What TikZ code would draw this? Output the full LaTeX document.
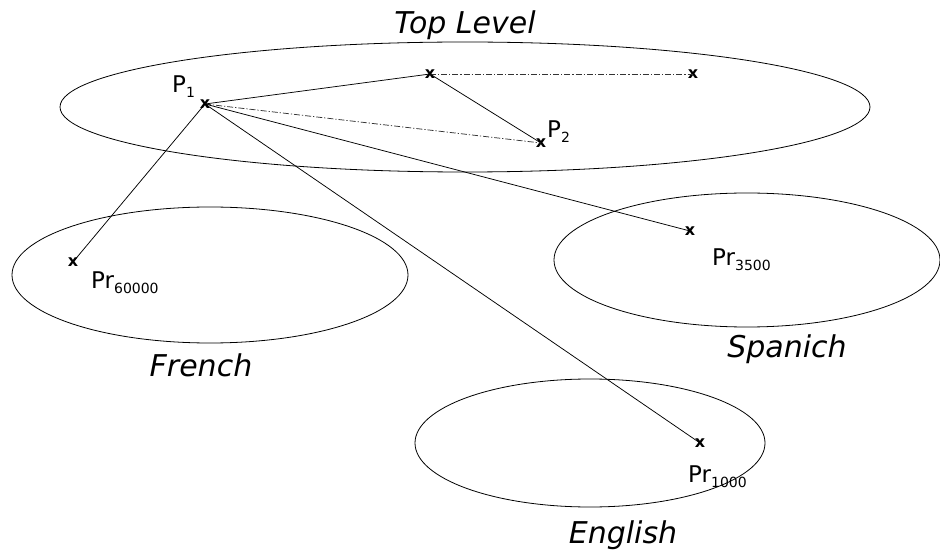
\documentclass[tikz,border=0pt]{standalone}
\usepackage{fontspec}
\setmainfont{DejaVu Sans}
\newcommand\mysub[1]{\raisebox{-5pt}{\fontsize{14}{14}\selectfont #1}}
\begin{document}
\begin{tikzpicture}[x=1pt,y=-1pt,
  region/.style={draw=black, line width=0.8pt},
  mk/.style={inner sep=0pt, font=\bfseries\fontsize{16}{16}\selectfont},
  ln/.style={draw=black, line width=0.75pt},
  dd/.style={draw=black!80, line width=0.75pt, dash pattern=on 6pt off 2pt on 1.2pt off 2pt},
  lbl/.style={inner sep=0pt, anchor=base west, font=\fontsize{23}{23}\selectfont},
  title/.style={inner sep=0pt, anchor=base, font=\itshape\fontsize{30}{30}\selectfont}]
\useasboundingbox (0,0) rectangle (940,553);
\fill[white] (0,0) rectangle (940,553);
% regions
\draw[region] (465,107) ellipse [x radius=405, y radius=65];
\draw[region] (210,275) ellipse [x radius=198, y radius=68];
\draw[region] (747,260) ellipse [x radius=193, y radius=67];
\draw[region] (590,443) ellipse [x radius=175, y radius=64];
% titles
\node[title] (ttop) at (465,34) {Top Level};
\node[title] (tfr) at (201,377) {French};
\node[title] (tsp) at (787,357) {Spanich};
\node[title] (ten) at (623,543) {English};
% marks
\node[mk] (p1) at (205,104) {x};
\node[mk] (a) at (430,74) {x};
\node[mk] (b) at (693,74) {x};
\node[mk] (p2) at (541,143) {x};
\node[mk] (fr) at (73,262) {x};
\node[mk] (sp) at (690,231) {x};
\node[mk] (en) at (700,443) {x};
% connectors
\draw[ln] (p1.center) -- (a.center);
\draw[dd] (a.center) -- (b.center);
\draw[ln] (a.center) -- (p2.center);
\draw[dd] (p1.center) -- (p2.center);
\draw[ln] (p1.center) -- (fr.center);
\draw[ln] (p1.center) -- (sp.center);
\draw[ln] (p1.center) -- (en.center);
% labels
\node[lbl] (lp1) at (172,93) {P\mysub{1}};
\node[lbl] (lp2) at (547,138) {P\mysub{2}};
\node[lbl] (lfr) at (91,289) {Pr\mysub{60000}};
\node[lbl] (lsp) at (712,266) {Pr\mysub{3500}};
\node[lbl] (len) at (688,482) {Pr\mysub{1000}};
\end{tikzpicture}
\end{document}
